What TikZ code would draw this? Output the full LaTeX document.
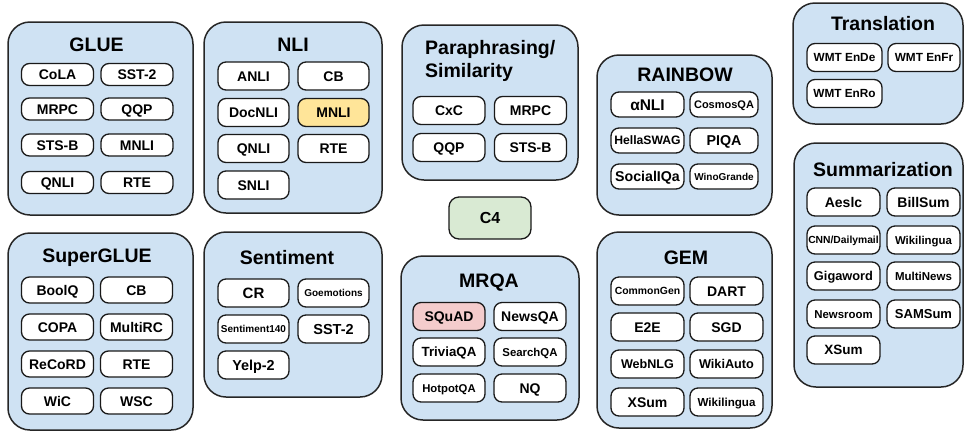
\documentclass[tikz,border=0pt]{standalone}
\usepackage{fontspec}
\setmainfont{Liberation Sans}
\definecolor{groupblue}{HTML}{CFE2F3}
\definecolor{mnliyellow}{HTML}{FFE599}
\definecolor{squadpink}{HTML}{F4CCCC}
\definecolor{cfourgreen}{HTML}{D9EAD3}
\begin{document}
\begin{tikzpicture}[x=1pt,y=-1pt,
  group/.style={draw=black!85, line width=1.5pt, fill=groupblue, rounded corners=22pt, inner sep=0pt},
  grouptitle/.style={anchor=base, inner sep=0pt, font=\bfseries\fontsize{19.5}{23}\selectfont},
  fs/.style={font=\bfseries\fontsize{#1}{#1}\selectfont, text height={0.72*#1}},
  task/.style={draw=black!90, line width=1.3pt, fill=white, rounded corners=8pt, inner sep=0pt,
    minimum width=72, minimum height=28, text depth=0pt, fs=14}]
\useasboundingbox (0,0) rectangle (966,432);

\node[group, minimum width=185, minimum height=193] (glue) at (100.5,118.5) {};
\node[grouptitle] (gluet) at (96.5,51) {GLUE};
\node[task, minimum height=22] (cola) at (57.5,74.5) {CoLA};
\node[task, minimum height=22] (sst) at (137,74.5) {SST-2};
\node[task, minimum height=22] (mrpc) at (57.5,109) {MRPC};
\node[task, minimum height=22] (qqp) at (137,109) {QQP};
\node[task, minimum height=22] (stsb) at (57.5,145) {STS-B};
\node[task, minimum height=22] (mnli) at (137,145) {MNLI};
\node[task, minimum height=22] (qnli) at (57.5,182.5) {QNLI};
\node[task, minimum height=22] (rte) at (137,182.5) {RTE};

\node[group, minimum width=178, minimum height=191] (nli) at (293,117.5) {};
\node[grouptitle] (nlit) at (293,51) {NLI};
\node[task, minimum width=71] (anli) at (253.5,76) {ANLI};
\node[task, minimum width=71] (ncb) at (333.5,76) {CB};
\node[task, minimum width=71] (docnli) at (253.5,112.5) {DocNLI};
\node[task, minimum width=71, fill=mnliyellow] (nmnli) at (333.5,112.5) {MNLI};
\node[task, minimum width=71] (nqnli) at (253.5,148.5) {QNLI};
\node[task, minimum width=71] (nrte) at (333.5,148.5) {RTE};
\node[task, minimum width=71] (snli) at (253.5,185) {SNLI};

\node[group, minimum width=176, minimum height=155] (para) at (490,102.5) {};
\node[grouptitle, anchor=west, align=left] (parat) at (425,61) {Paraphrasing/\\Similarity};
\node[task] (cxc) at (449,110.5) {CxC};
\node[task] (pmrpc) at (530.5,110.5) {MRPC};
\node[task] (pqqp) at (449,147.5) {QQP};
\node[task] (pstsb) at (530.5,147.5) {STS-B};

\node[task, fill=cfourgreen, minimum width=82, minimum height=42, rounded corners=10pt, fs=16] (c4) at (490,218) {C4};

\node[group, minimum width=178, minimum height=164] (mrqa) at (490,338) {};
\node[grouptitle] (mrqat) at (489,287) {MRQA};
\node[task, fill=squadpink] (squad) at (449,316.5) {SQuAD};
\node[task] (newsqa) at (530,316.5) {NewsQA};
\node[task, fs=13.3] (trivia) at (449,352) {TriviaQA};
\node[task, fs=11.4] (search) at (530,352) {SearchQA};
\node[task, fs=11.3] (hotpot) at (449,388) {HotpotQA};
\node[task] (nq) at (530,388) {NQ};

\node[group, minimum width=175, minimum height=160] (rainbow) at (684.5,135) {};
\node[grouptitle] (rainbowt) at (685,81) {RAINBOW};
\node[task, minimum width=73, minimum height=25, fs=15.5] (alnli) at (647.5,104.5) {αNLI};
\node[task, minimum width=68, minimum height=25, fs=11] (cosmos) at (724,104.5) {CosmosQA};
\node[task, minimum width=73, minimum height=25, fs=12.2] (hella) at (647.5,140.5) {HellaSWAG};
\node[task, minimum width=68, minimum height=25, fs=14.3] (piqa) at (724,140.5) {PIQA};
\node[task, minimum width=73, minimum height=25, fs=14.2] (siqa) at (647.5,176.5) {SocialIQa};
\node[task, minimum width=68, minimum height=25, fs=10] (wino) at (724,176.5) {WinoGrande};

\node[group, minimum width=170, minimum height=121] (trans) at (878,63.5) {};
\node[grouptitle] (transt) at (883,30) {Translation};
\node[task, minimum width=75, fs=11.8] (ende) at (844.5,57.5) {WMT EnDe};
\node[task, fs=11.8] (enfr) at (924,57.5) {WMT EnFr};
\node[task, minimum width=75, fs=11.8] (enro) at (844.5,93.5) {WMT EnRo};

\node[group, minimum width=169, minimum height=244] (summ) at (878.5,265) {};
\node[grouptitle] (summt) at (883,176) {Summarization};
\node[task, minimum width=73] (aeslc) at (843.5,202) {Aeslc};
\node[task, minimum width=73] (billsum) at (923.5,202) {BillSum};
\node[task, minimum width=73, fs=10.3] (cnndm) at (843.5,240) {CNN/Dailymail};
\node[task, minimum width=73, fs=11.4] (swiki) at (923.5,240) {Wikilingua};
\node[task, minimum width=73, fs=12.8] (giga) at (843.5,276) {Gigaword};
\node[task, minimum width=73, fs=11.5] (multinews) at (923.5,276) {MultiNews};
\node[task, minimum width=73, fs=11.4] (newsroom) at (843.5,314) {Newsroom};
\node[task, minimum width=73, fs=13] (samsum) at (923.5,314) {SAMSum};
\node[task, minimum width=73, fs=13.5] (sxsum) at (843.5,350) {XSum};

\node[group, minimum width=185, minimum height=197] (superglue) at (100.5,331.5) {};
\node[grouptitle] (supergluet) at (97,262) {SuperGLUE};
\node[task, minimum height=26] (boolq) at (57.5,290) {BoolQ};
\node[task, minimum height=26] (scb) at (136.5,290) {CB};
\node[task, minimum height=26] (copa) at (57.5,327) {COPA};
\node[task, minimum height=26] (multirc) at (136.5,327) {MultiRC};
\node[task, minimum height=26] (record) at (57.5,364) {ReCoRD};
\node[task, minimum height=26] (srte) at (136.5,364) {RTE};
\node[task, minimum height=26] (wic) at (57.5,401) {WiC};
\node[task, minimum height=26] (wsc) at (136.5,401) {WSC};

\node[group, minimum width=178, minimum height=165] (senti) at (293,314.5) {};
\node[grouptitle] (sentit) at (287,264) {Sentiment};
\node[task, minimum width=71, fs=15] (cr) at (253.5,293) {CR};
\node[task, minimum width=71, fs=10] (goemo) at (333.5,293) {Goemotions};
\node[task, minimum width=71, fs=10] (senti140) at (253.5,329) {Sentiment140};
\node[task, minimum width=71, fs=14.5] (ssst) at (333.5,329) {SST-2};
\node[task, minimum width=71, fs=14.4] (yelp) at (253.5,365) {Yelp-2};

\node[group, minimum width=175, minimum height=196] (gem) at (684.5,330) {};
\node[grouptitle] (gemt) at (686,264) {GEM};
\node[task, minimum width=73, fs=10.4] (common) at (647.5,291) {CommonGen};
\node[task, minimum width=73] (dart) at (726.5,291) {DART};
\node[task, minimum width=73] (e2e) at (647.5,327) {E2E};
\node[task, minimum width=73] (sgd) at (726.5,327) {SGD};
\node[task, minimum width=73, fs=12.6] (webnlg) at (647.5,364) {WebNLG};
\node[task, minimum width=73, fs=12.7] (wikiauto) at (726.5,364) {WikiAuto};
\node[task, minimum width=73] (gxsum) at (647.5,402) {XSum};
\node[task, minimum width=73, fs=11.6] (gwiki) at (726.5,402) {Wikilingua};
\end{tikzpicture}
\end{document}
